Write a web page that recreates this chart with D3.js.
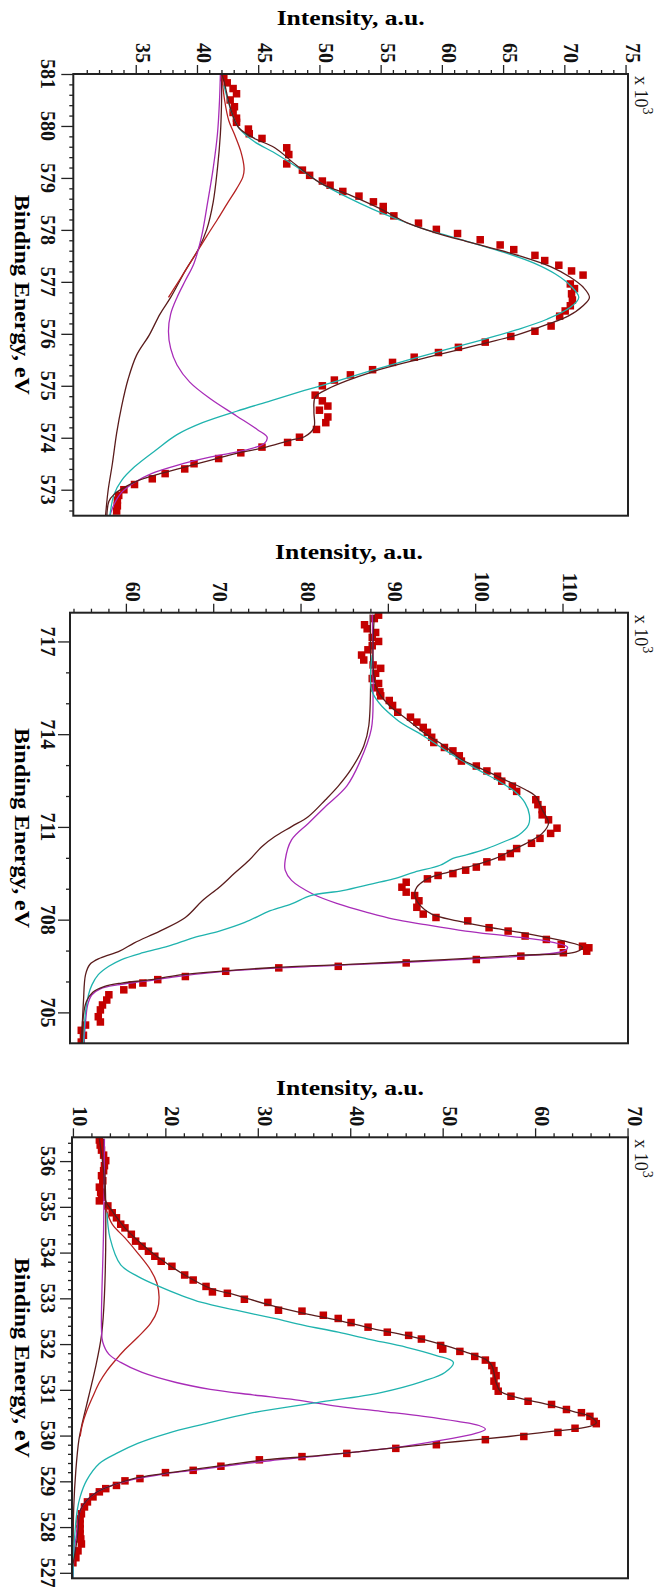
<!DOCTYPE html>
<html><head><meta charset="utf-8">
<script src="https://cdn.jsdelivr.net/npm/d3@7"></script>
<style>body{margin:0;background:#fff}svg{display:block}</style>
</head><body>
<svg id="c" width="657" height="1587"></svg>
<script>
// ---------- Panel 1 (BE 581-572.5) : [bindingEnergy, intensity x10^3] ----------
const p1ITicks = [35, 40, 45, 50, 55, 60, 65, 70, 75];
const p1BETicks = [581, 580, 579, 578, 577, 576, 575, 574, 573];
const p1Data = [[580.93,42.19],[580.83,42.47],[580.72,42.95],[580.62,43.23],[580.50,42.71],[580.37,43.06],[580.26,42.95],[580.15,43.23],[580.07,43.23],[579.94,44.20],[579.85,44.27],[579.76,45.31],[579.58,47.33],[579.45,47.50],[579.27,47.33],[579.15,48.61],[579.05,49.20],[578.94,50.24],[578.86,50.87],[578.74,51.91],[578.65,53.23],[578.54,54.41],[578.45,55.21],[578.37,55.21],[578.27,56.08],[578.13,58.09],[578.01,59.55],[577.93,61.28],[577.81,63.13],[577.71,64.76],[577.62,65.87],[577.51,67.60],[577.41,68.40],[577.32,69.55],[577.21,70.59],[577.13,71.53],[576.96,70.49],[576.87,70.83],[576.77,70.59],[576.65,70.66],[576.54,70.49],[576.44,70.07],[576.34,69.62],[576.15,68.92],[576.05,67.60],[575.95,65.63],[575.84,63.54],[575.74,61.35],[575.64,59.72],[575.55,57.74],[575.45,55.97],[575.31,54.34],[575.21,52.53],[575.11,51.22],[575.00,50.24],[574.82,49.65],[574.71,50.24],[574.61,50.69],[574.53,50.00],[574.40,50.69],[574.29,50.52],[574.16,49.76],[574.01,48.37],[573.91,47.40],[573.82,45.31],[573.71,43.58],[573.60,41.77],[573.50,39.76],[573.40,39.00],[573.31,37.40],[573.21,36.35],[573.10,34.90],[573.00,34.03],[572.89,33.61],[572.80,33.50],[572.69,33.50],[572.59,33.44]];
const p1Envelope = [[581.0,42.01],[580.88,42.19],[580.36,42.71],[579.97,43.40],[579.77,44.62],[579.58,46.35],[579.25,48.09],[578.89,50.17],[578.66,52.60],[578.40,55.03],[578.14,57.12],[577.94,59.55],[577.78,61.98],[577.65,64.06],[577.49,66.49],[577.29,68.92],[577.09,70.49],[576.90,71.53],[576.70,72.05],[576.54,71.53],[576.34,70.31],[576.18,68.58],[575.98,66.15],[575.79,63.02],[575.59,59.55],[575.43,56.77],[575.27,54.34],[575.10,52.26],[574.94,50.69],[574.78,49.65],[574.51,49.55],[574.19,49.55],[574.02,48.78],[573.96,47.74],[573.80,45.31],[573.70,43.23],[573.57,41.15],[573.44,39.06],[573.31,36.98],[573.18,35.24],[573.04,34.03],[572.91,33.23],[572.78,32.81],[572.49,32.64]];
const p1Main = [[580.78,42.19],[580.49,42.53],[580.23,42.88],[579.97,43.40],[579.71,44.62],[579.48,46.35],[579.22,48.09],[578.89,50.17],[578.63,52.26],[578.40,54.34],[578.20,56.42],[578.02,58.51],[577.88,60.59],[577.71,63.02],[577.54,65.45],[577.36,67.53],[577.15,69.27],[576.93,70.49],[576.70,71.18],[576.51,70.49],[576.28,68.58],[576.08,66.15],[575.89,63.37],[575.69,60.24],[575.49,57.12],[575.30,54.34],[575.10,51.56],[574.91,48.78],[574.71,46.01],[574.51,43.23],[574.29,40.45],[574.06,38.37],[573.76,36.63],[573.44,34.90],[573.18,33.85],[572.91,33.23],[572.49,32.88]];
const p1Second = [[581.0,41.91],[580.49,41.84],[579.84,41.67],[579.18,41.32],[578.53,40.87],[577.88,40.38],[577.36,39.76],[577.03,39.06],[576.70,38.37],[576.38,37.85],[576.05,37.67],[575.72,37.85],[575.40,38.37],[575.07,39.41],[574.74,41.15],[574.42,43.23],[574.15,44.97],[574.01,45.73],[573.89,45.49],[573.76,43.92],[573.63,41.15],[573.47,38.37],[573.31,36.28],[573.14,34.90],[572.95,33.85],[572.72,33.23],[572.49,32.88]];
const p1Sat = [[581.0,42.01],[580.49,42.26],[580.10,42.60],[579.84,43.06],[579.51,43.58],[579.18,43.85],[579.02,43.75],[578.79,43.23],[578.53,42.53],[578.20,41.67],[577.88,40.80],[577.55,39.93],[577.22,39.06],[576.83,38.02],[576.70,37.67]];
const p1Bg = [[581.0,42.01],[580.49,42.01],[579.84,41.91],[579.18,41.67],[578.53,41.32],[578.01,40.80],[577.62,40.10],[577.22,39.06],[576.70,37.85],[576.38,36.98],[575.98,36.11],[575.59,35.07],[575.13,34.38],[574.61,33.85],[574.09,33.44],[573.50,33.09],[572.98,32.74],[572.49,32.53]];

// ---------- Panel 2 (BE 718-704) ----------
const p2ITicks = [60, 70, 80, 90, 100, 110];
const p2BETicks = [717, 714, 711, 708, 705];
const p2Data = [[717.85,88.94],[717.74,88.45],[717.54,87.33],[717.41,87.63],[717.29,88.60],[717.13,88.21],[717.00,88.94],[716.86,88.21],[716.73,87.72],[716.56,86.99],[716.40,87.24],[716.24,88.31],[716.13,89.18],[715.97,88.60],[715.80,88.21],[715.64,88.94],[715.50,88.45],[715.37,89.09],[715.24,89.18],[715.09,90.16],[714.93,90.54],[714.71,91.13],[714.55,92.59],[714.39,93.32],[714.22,94.05],[714.06,94.53],[713.90,95.02],[713.73,95.26],[713.57,96.48],[713.46,97.45],[713.30,98.18],[713.13,98.42],[712.97,100.13],[712.81,101.34],[712.64,102.56],[712.48,103.04],[712.32,104.26],[712.15,104.75],[711.88,106.94],[711.72,107.18],[711.56,107.67],[711.39,107.67],[711.23,108.40],[710.96,109.37],[710.79,108.64],[710.63,107.42],[710.47,106.45],[710.30,104.75],[710.14,104.02],[710.03,103.04],[709.87,101.34],[709.70,100.13],[709.60,98.91],[709.49,97.45],[709.43,95.75],[709.32,94.53],[709.21,92.10],[709.05,91.61],[708.89,92.10],[708.78,93.07],[708.61,93.56],[708.40,93.32],[708.18,94.05],[708.07,95.51],[707.96,99.15],[707.74,101.59],[707.63,103.77],[707.47,105.72],[707.36,108.15],[707.20,109.85],[707.14,112.29],[707.09,113.02],[706.98,112.77],[706.93,110.10],[706.82,105.23],[706.71,100.13],[706.60,92.10],[706.49,84.32],[706.44,77.51],[706.33,71.43],[706.16,66.81],[706.06,63.65],[705.95,61.95],[705.89,60.73],[705.73,59.76],[705.57,58.05],[705.40,57.81],[705.24,57.32],[705.08,57.08],[704.86,56.84],[704.69,57.08],[704.59,55.38],[704.42,54.89],[704.26,55.14],[704.04,54.89]];
const p2Envelope = [[717.87,88.45],[716.24,88.31],[715.48,88.70],[714.93,90.16],[714.50,92.10],[714.06,94.05],[713.62,96.48],[713.19,98.42],[712.86,100.86],[712.54,103.29],[712.21,105.72],[711.99,106.94],[711.56,107.67],[711.12,108.40],[710.79,107.67],[710.52,106.21],[710.25,104.26],[709.98,102.31],[709.76,99.88],[709.54,96.96],[709.32,94.53],[709.05,93.32],[708.83,93.07],[708.51,93.56],[708.18,95.02],[707.96,97.94],[707.74,101.83],[707.53,106.21],[707.31,110.10],[707.11,112.29],[706.96,111.56],[706.85,105.23],[706.71,96.48],[706.57,86.75],[706.46,77.51],[706.33,70.70],[706.20,65.84],[706.06,62.92],[705.95,59.51],[705.84,57.57],[705.65,56.21],[705.35,55.48],[704.91,55.14],[703.82,54.94]];
const p2Main = [[716.56,88.21],[715.37,88.21],[714.50,90.89],[713.95,94.05],[713.41,96.96],[712.92,99.88],[712.54,102.31],[712.15,104.50],[711.77,105.72],[711.39,106.21],[711.07,106.11],[710.74,104.99],[710.52,103.29],[710.30,101.34],[710.09,98.91],[709.98,97.45],[709.76,95.99],[709.54,93.07],[709.32,90.64],[709.16,88.21],[708.94,84.81],[708.78,81.16],[708.51,78.97],[708.29,76.54],[707.91,73.62],[707.63,70.70],[707.42,67.78],[707.14,64.86],[706.93,61.95],[706.71,59.51],[706.49,58.05],[706.22,56.84],[705.89,56.11],[705.57,55.72],[705.02,55.38],[703.82,55.14]];
const p2Second = [[717.87,88.21],[715.37,88.31],[714.17,88.11],[713.08,86.75],[712.32,85.29],[711.66,82.86],[711.12,80.91],[710.58,78.97],[709.92,78.24],[709.60,78.24],[709.27,78.97],[708.83,81.40],[708.51,84.32],[708.23,87.72],[708.02,90.64],[707.85,94.05],[707.63,98.91],[707.47,103.77],[707.31,108.15],[707.11,110.58],[706.98,110.10],[706.82,105.23],[706.68,96.48],[706.55,86.75],[706.44,77.51],[706.31,70.70],[706.16,65.84],[706.00,61.95],[705.89,59.03],[705.76,57.08],[705.57,56.11],[705.24,55.62],[704.69,55.38],[703.82,55.14]];
const p2Bg = [[717.87,87.97],[714.28,87.82],[713.62,87.24],[712.86,85.78],[712.32,84.32],[711.88,82.86],[711.34,80.91],[711.01,78.97],[710.68,77.02],[710.36,75.56],[709.92,74.11],[709.49,72.40],[709.05,70.70],[708.61,68.75],[708.07,66.81],[707.63,63.89],[707.25,60.97],[706.98,59.27],[706.76,57.08],[706.55,55.87],[706.22,55.38],[705.35,55.14],[703.82,54.89]];

// ---------- Panel 3 (BE 536.5-526.9) ----------
const p3ITicks = [10, 20, 30, 40, 50, 60, 70];
const p3BETicks = [536, 535, 534, 533, 532, 531, 530, 529, 528, 527];
const p3Data = [[536.46,12.86],[536.35,12.95],[536.24,13.09],[536.13,13.32],[536.01,13.55],[535.90,13.41],[535.79,13.32],[535.68,13.09],[535.57,13.23],[535.43,12.86],[535.32,13.00],[535.21,13.09],[535.13,12.86],[535.02,13.78],[534.87,14.25],[534.76,14.71],[534.62,15.17],[534.54,15.63],[534.40,16.32],[534.25,16.78],[534.14,17.48],[534.03,18.17],[533.92,18.86],[533.81,19.55],[533.70,20.71],[533.51,22.09],[533.40,23.01],[533.26,24.40],[533.14,25.09],[533.11,26.71],[532.98,28.55],[532.91,31.09],[532.74,32.24],[532.72,34.78],[532.63,37.09],[532.56,38.70],[532.47,40.09],[532.37,41.93],[532.26,44.01],[532.19,46.32],[532.11,47.70],[531.97,49.78],[531.89,50.01],[531.84,51.86],[531.73,53.47],[531.65,54.62],[531.53,55.32],[531.42,55.55],[531.31,55.78],[531.19,55.55],[531.08,55.78],[530.97,56.01],[530.86,57.39],[530.75,59.24],[530.68,61.78],[530.57,63.39],[530.50,65.01],[530.42,65.93],[530.31,66.39],[530.26,66.62],[530.16,64.32],[530.07,62.47],[529.98,58.78],[529.91,54.62],[529.80,49.32],[529.72,44.93],[529.61,39.63],[529.54,34.78],[529.47,30.17],[529.33,26.01],[529.24,23.01],[529.19,20.01],[529.06,17.25],[529.01,15.63],[528.91,14.71],[528.84,13.55],[528.77,12.86],[528.66,12.17],[528.55,11.57],[528.44,11.25],[528.29,10.92],[528.18,10.78],[528.07,10.78],[527.96,10.78],[527.85,10.78],[527.74,10.85],[527.63,10.92],[527.48,10.55],[527.33,10.32],[527.22,10.00]];
const p3Envelope = [[536.49,12.86],[535.79,13.32],[535.13,13.55],[534.91,14.25],[534.54,15.63],[534.18,17.48],[533.88,19.32],[533.51,22.09],[533.22,24.86],[533.07,27.63],[532.85,31.32],[532.67,35.01],[532.52,38.70],[532.34,42.40],[532.19,46.09],[532.00,49.78],[531.82,52.55],[531.67,54.62],[531.53,55.32],[531.16,55.78],[530.97,56.24],[530.83,58.09],[530.68,61.32],[530.53,64.08],[530.42,65.93],[530.28,66.62],[530.20,65.93],[530.09,61.78],[529.98,57.16],[529.87,51.63],[529.76,46.09],[529.65,41.01],[529.55,35.93],[529.48,31.32],[529.36,26.71],[529.26,23.01],[529.17,19.78],[529.06,16.55],[528.91,14.25],[528.77,12.63],[528.58,11.48],[528.36,10.78],[527.92,10.55],[527.55,10.32],[527.18,10.00],[526.89,9.72]];
const p3Main = [[534.87,13.69],[534.32,14.01],[533.73,15.17],[533.48,17.01],[533.26,19.32],[533.07,21.63],[532.91,23.94],[532.74,27.63],[532.56,31.78],[532.41,35.01],[532.26,38.70],[532.11,41.93],[531.93,46.09],[531.75,49.32],[531.60,51.16],[531.38,50.24],[531.19,47.93],[530.94,43.32],[530.72,36.40],[530.50,29.47],[530.24,23.94],[530.05,20.24],[529.83,17.01],[529.61,14.71],[529.39,12.86],[529.02,11.48],[528.66,10.78],[528.36,10.46],[527.77,10.18],[526.89,10.00]];
const p3Second = [[536.49,13.41],[534.54,13.32],[532.34,13.09],[532.04,13.23],[531.78,13.88],[531.60,15.17],[531.38,17.48],[531.16,21.17],[531.01,24.86],[530.89,29.47],[530.78,34.09],[530.64,38.70],[530.53,43.32],[530.42,47.93],[530.31,51.63],[530.22,53.93],[530.14,54.62],[530.04,53.47],[529.91,50.24],[529.76,45.63],[529.65,41.01],[529.54,35.93],[529.45,31.32],[529.34,26.71],[529.24,23.01],[529.16,19.78],[529.04,16.55],[528.91,14.25],[528.77,12.63],[528.58,11.48],[528.36,10.78],[527.92,10.46],[527.55,10.18],[526.89,10.00]];
const p3Sat = [[534.98,13.55],[534.62,14.25],[534.32,15.63],[533.99,17.01],[533.62,18.40],[533.33,19.09],[533.03,19.32],[532.74,19.14],[532.45,18.40],[532.15,17.01],[531.88,15.63],[531.65,14.61],[531.42,13.69],[531.16,12.86],[530.86,12.17],[530.53,11.48],[530.24,11.02],[529.98,10.78]];
const p3Bg = [[536.49,13.32],[534.98,13.55],[533.07,13.41],[532.19,13.09],[531.45,12.40],[530.86,11.71],[530.28,11.02],[529.91,10.65],[529.25,10.32],[528.44,10.09],[526.89,10.00]];

// ---------- layout ----------
const svg = d3.select('#c');
const FONT = '"Liberation Serif", "Times New Roman", serif';
const COL = {data:'#c40000', env:'#5a1c1c', bg:'#5a1c1c', main:'#1fb3ae', second:'#a82cb8', sat:'#b52222', axis:'#222'};

function stepRange(a, b, step) {
  const n = Math.round(Math.abs(b - a) / step);
  const s = b > a ? step : -step;
  return d3.range(n + 1).map(i => +(a + i * s).toFixed(3));
}

const panels = [
  {id:1, left:73.3, right:628, top:74, bottom:515.7, iDom:[29.9,75.2], beDom:[581,572.5],
   iTicks:p1ITicks, iMinor:stepRange(31,75,1), beTicks:p1BETicks, beMinor:stepRange(581,572.6,0.2), titleY:25,
   data:p1Data, lines:[[p1Bg,'bg'],[p1Sat,'sat'],[p1Second,'second'],[p1Main,'main'],[p1Envelope,'env']]},
  {id:2, left:70, right:628, top:612.7, bottom:1043.3, iDom:[53.6,117.5], beDom:[717.93,704.0],
   iTicks:p2ITicks, iMinor:stepRange(54,116,2), beTicks:p2BETicks, beMinor:stepRange(717,705,1), titleY:559,
   data:p2Data, lines:[[p2Bg,'bg'],[p2Second,'second'],[p2Main,'main'],[p2Envelope,'env']]},
  {id:3, left:72, right:628, top:1137.3, bottom:1578.3, iDom:[9.9,70.05], beDom:[536.52,526.88],
   iTicks:p3ITicks, iMinor:stepRange(10,70,2), beTicks:p3BETicks, beMinor:stepRange(536.4,527,0.2), titleY:1095,
   data:p3Data, lines:[[p3Bg,'bg'],[p3Sat,'sat'],[p3Second,'second'],[p3Main,'main'],[p3Envelope,'env']]}
];

panels.forEach(p => {
  const x = d3.scaleLinear().domain(p.iDom).range([p.left, p.right]);
  const y = d3.scaleLinear().domain(p.beDom).range([p.top, p.bottom]);
  const g = svg.append('g');
  const clipId = 'clip' + p.id;
  svg.append('clipPath').attr('id', clipId).append('rect')
    .attr('x', p.left).attr('y', p.top).attr('width', p.right - p.left).attr('height', p.bottom - p.top);

  const styleAxis = s => { s.select('.domain').remove(); s.selectAll('line').attr('stroke', COL.axis).attr('stroke-width', 1.3); };
  const iMinor = p.iMinor.filter(v => !p.iTicks.includes(v) && v > p.iDom[0] && v <= p.iDom[1]);
  const beMinor = p.beMinor.filter(v => !p.beTicks.some(t => Math.abs(t - v) < 1e-6));
  g.append('g').attr('transform', `translate(0,${p.top})`)
    .call(d3.axisTop(x).tickValues(iMinor).tickSize(4).tickFormat('')).call(styleAxis);
  g.append('g').attr('transform', `translate(0,${p.top})`)
    .call(d3.axisTop(x).tickValues(p.iTicks).tickSize(9).tickFormat('')).call(styleAxis);
  g.append('g').attr('transform', `translate(${p.left},0)`)
    .call(d3.axisLeft(y).tickValues(beMinor).tickSize(4).tickFormat('')).call(styleAxis);
  g.append('g').attr('transform', `translate(${p.left},0)`)
    .call(d3.axisLeft(y).tickValues(p.beTicks).tickSize(12).tickFormat('')).call(styleAxis);

  // tick labels (rotated)
  g.selectAll('.il').data(p.iTicks).join('text')
    .attr('transform', d => `translate(${x(d)},${p.top - 11}) rotate(90)`)
    .attr('text-anchor', 'end').attr('font-family', FONT).attr('font-weight', 'bold')
    .attr('font-size', 20).attr('fill', '#111').text(d => d);
  g.selectAll('.bl').data(p.beTicks).join('text')
    .attr('transform', d => `translate(41,${y(d)}) rotate(90)`)
    .attr('text-anchor', 'middle').attr('font-family', FONT).attr('font-weight', 'bold')
    .attr('font-size', 20).attr('fill', '#111').text(d => d);

  // titles
  g.append('text').attr('x', (p.left + p.right) / 2).attr('y', p.titleY)
    .attr('text-anchor', 'middle').attr('font-family', FONT).attr('font-weight', 'bold')
    .attr('font-size', 21).attr('textLength', 148).attr('lengthAdjust', 'spacingAndGlyphs')
    .attr('fill', '#000').text('Intensity, a.u.');
  g.append('text').attr('transform', `translate(15,${(p.top + p.bottom) / 2}) rotate(90)`)
    .attr('text-anchor', 'middle').attr('font-family', FONT).attr('font-weight', 'bold')
    .attr('font-size', 21).attr('textLength', 200).attr('lengthAdjust', 'spacingAndGlyphs')
    .attr('fill', '#000').text('Binding Energy, eV');
  const xt = g.append('text').attr('transform', `translate(${p.right + 7},${p.top + 2}) rotate(90)`)
    .attr('font-family', FONT).attr('font-size', 18).attr('fill', '#111');
  xt.append('tspan').text('x 10');
  xt.append('tspan').attr('dy', -8).attr('font-size', 14).text('3');

  // plot content
  const body = g.append('g').attr('clip-path', `url(#${clipId})`);
  body.selectAll('rect.pt').data(p.data).join('rect').attr('class', 'pt')
    .attr('x', d => x(d[1]) - 3.75).attr('y', d => y(d[0]) - 3.75)
    .attr('width', 7.5).attr('height', 7.5).attr('fill', COL.data);
  const line = d3.line().x(d => x(d[1])).y(d => y(d[0])).curve(d3.curveCatmullRom.alpha(0.5));
  p.lines.forEach(([arr, key]) => {
    body.append('path').datum(arr).attr('d', line).attr('fill', 'none')
      .attr('stroke', COL[key]).attr('stroke-width', 1.3);
  });

  // frame
  g.append('rect').attr('x', p.left).attr('y', p.top).attr('width', p.right - p.left).attr('height', p.bottom - p.top)
    .attr('fill', 'none').attr('stroke', COL.axis).attr('stroke-width', 2);
});
</script>
</body></html>
